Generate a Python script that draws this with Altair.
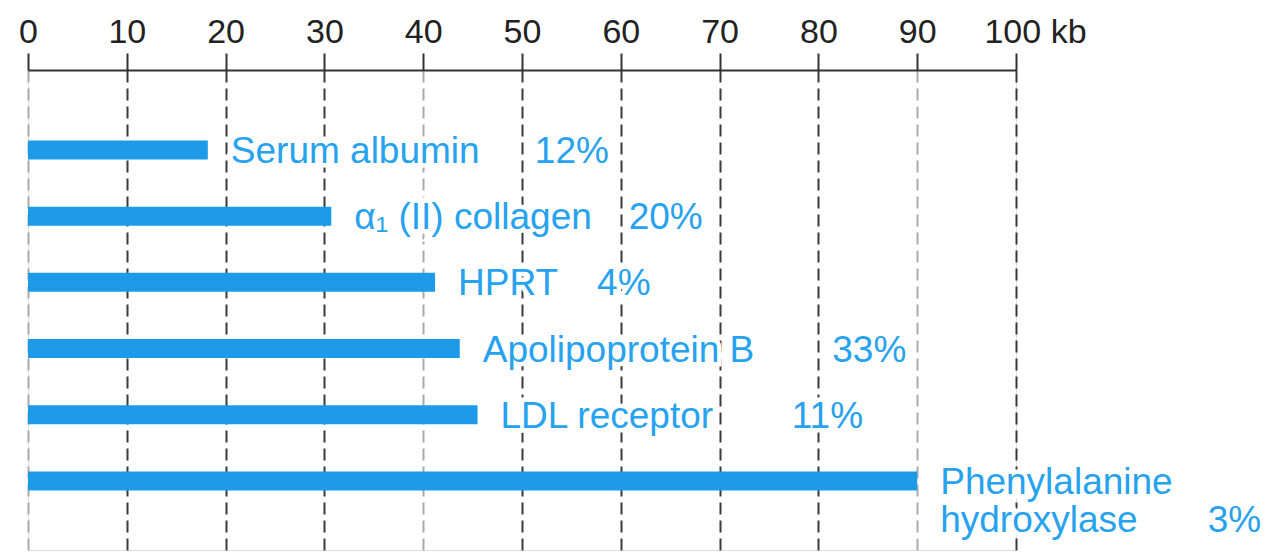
import altair as alt
import pandas as pd

genes = ["Serum albumin", "α₁ (II) collagen", "HPRT", "Apolipoprotein B",
         "LDL receptor", "Phenylalanine\nhydroxylase"]
gene_kb = [18.2, 30.7, 41.2, 43.7, 45.5, 90.0]
exon_pct = [12, 20, 4, 33, 11, 3]
pct_anchor_kb = [51.3, 60.8, 57.6, 81.4, 77.3, 119.4]
x_ticks = [0, 10, 20, 30, 40, 50, 60, 70, 80, 90, 100]

BLUE = "#1d9be9"
TEXT_BLUE = "#27a2ee"
FONT = "Liberation Sans, Arial, Helvetica, sans-serif"

df = pd.DataFrame({
    "gene": genes,
    "kb": gene_kb,
    "pct_x": pct_anchor_kb,
    "pct_label": [("\n" if "\n" in g else "") + f"{p}%" for g, p in zip(genes, exon_pct)],
})

xscale = alt.Scale(domain=[0, 100], nice=False, zero=True)
yenc = alt.Y("gene:N", sort=genes,
             scale=alt.Scale(type="band", paddingInner=0, paddingOuter=0.6255, align=0.566),
             axis=None)

bars = alt.Chart(df).mark_bar(height=19, color=BLUE).encode(
    x=alt.X("kb:Q", scale=xscale,
            axis=alt.Axis(orient="top", values=x_ticks, title="",
                          labelExpr="datum.value == 100 ? '100 kb' : datum.label",
                          labelOffset={"condition": {"test": "datum.value == 100", "value": 19}, "value": 0},
                          labelFontSize=34, labelFont=FONT, labelColor="#222",
                          labelPadding=4, labelFlush=False,
                          tickSize=17, tickWidth=2, tickColor="#333",
                          domainColor="#333", domainWidth=2,
                          grid=True, gridDash=[12, 6], gridWidth=2,
                          gridColor={"condition": {"test": "datum.value == 0 || datum.value == 40 || datum.value == 90",
                                                   "value": "#aaaaaa"}, "value": "#3a3a3a"},
                          gridOpacity=1)),
    y=yenc,
)

text_common = dict(align="left", baseline="alphabetic", dy=13, fontSize=37,
                   font=FONT, lineBreak="\n", lineHeight=38)

gene_halo = alt.Chart(df).mark_text(dx=23, fill="white", stroke="white", strokeWidth=9,
                                    **text_common).encode(
    x=alt.X("kb:Q", scale=xscale), y=yenc, text="gene:N")
gene_text = alt.Chart(df).mark_text(dx=23, color=TEXT_BLUE, **text_common).encode(
    x=alt.X("kb:Q", scale=xscale), y=yenc, text="gene:N")

pct_halo = alt.Chart(df).mark_text(fill="white", stroke="white", strokeWidth=9,
                                   **text_common).encode(
    x=alt.X("pct_x:Q", scale=xscale), y=yenc, text="pct_label:N")
pct_text = alt.Chart(df).mark_text(color=TEXT_BLUE, **text_common).encode(
    x=alt.X("pct_x:Q", scale=xscale), y=yenc, text="pct_label:N")

chart = alt.layer(bars, gene_halo, gene_text, pct_halo, pct_text).properties(
    width=988, height=480,
    autosize=alt.AutoSizeParams(type="none"),
    padding={"left": 20, "top": 62, "right": 250, "bottom": 8},
).configure_view(stroke="transparent", strokeOpacity=0).configure(background="white")

chart.save("out.html", embed_options={"renderer": "svg", "actions": False})
